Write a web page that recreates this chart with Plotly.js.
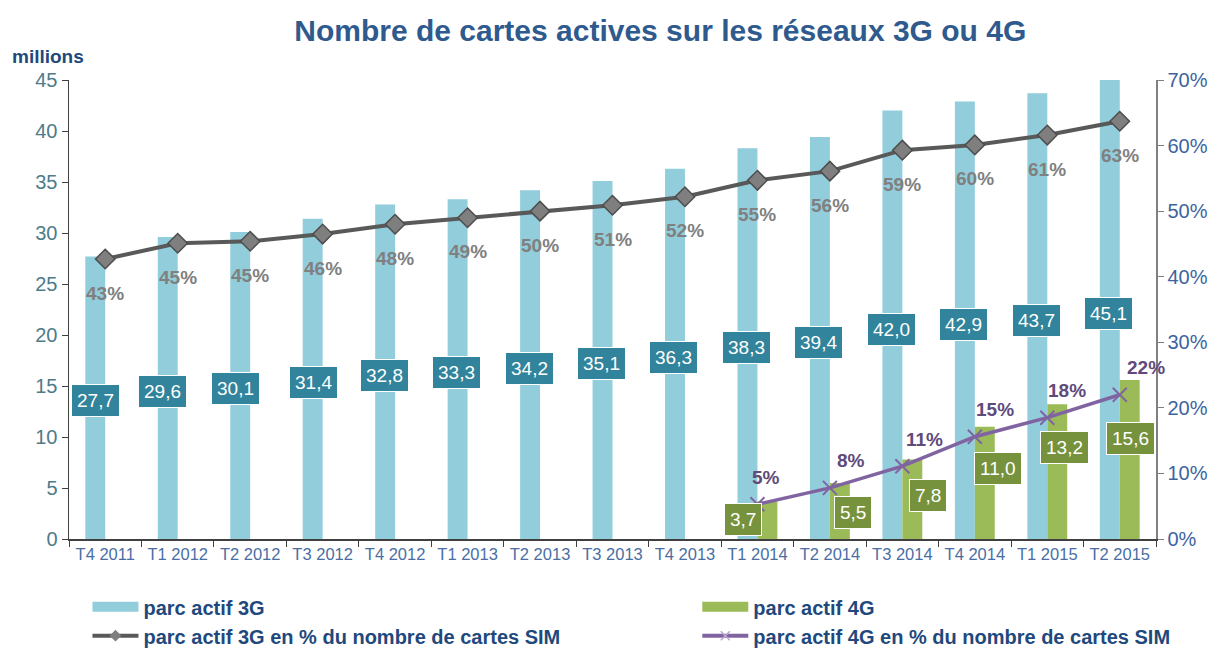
<!DOCTYPE html>
<html>
<head>
<meta charset="utf-8">
<script src="https://cdn.plot.ly/plotly-3.0.1.min.js"></script>
<style>html,body{margin:0;padding:0;background:#fff;}#chart{width:1216px;height:648px;}</style>
</head>
<body>
<div id="chart"></div>
<script>
const categories = ['T4 2011','T1 2012','T2 2012','T3 2012','T4 2012','T1 2013','T2 2013','T3 2013','T4 2013','T1 2014','T2 2014','T3 2014','T4 2014','T1 2015','T2 2015'];
const parc3G = [27.7,29.6,30.1,31.4,32.8,33.3,34.2,35.1,36.3,38.3,39.4,42.0,42.9,43.7,45.1];
const parc4G = [null,null,null,null,null,null,null,null,null,3.7,5.5,7.8,11.0,13.2,15.6];
const pct3G = [42.7,45.1,45.4,46.5,48.0,49.0,50.0,50.9,52.2,54.7,56.1,59.3,60.1,61.6,63.7];
const pct3GLabels = ['43%','45%','45%','46%','48%','49%','50%','51%','52%','55%','56%','59%','60%','61%','63%'];
const pct4G = [null,null,null,null,null,null,null,null,null,5.3,7.8,11.1,15.6,18.5,22.0];
const pct4GLabels = [null,null,null,null,null,null,null,null,null,'5%','8%','11%','15%','18%','22%'];

// label placement (layout only)
const shift3G = [-10,-15,-15,-9,-11,-11,-11,-11,-11,-11,-11,-11,-11,-11,-11];
const shift4G = [0,0,0,0,0,0,0,0,0,-14,23,26,23,17,11];
const lift4G = [0,0,0,0,0,0,0,0,0,0.51,0.48,0.55,0.63,0.68,0.63];
const shiftPct4G = [0,0,0,0,0,0,0,0,0,9,21,22,20,20,26];

const fmt = v => v.toFixed(1).replace('.', ',');
const FONT = 'Liberation Sans, Arial, sans-serif';

const traces = [
  // legend entries
  {type:'scatter', mode:'lines', name:'parc actif 3G', x:[null], y:[null], line:{color:'#92cddc', width:12}, legend:'legend', hoverinfo:'skip'},
  {type:'scatter', mode:'lines+markers', name:'parc actif 3G en % du nombre de cartes SIM', x:[null], y:[null],
   line:{color:'#595959', width:4}, marker:{symbol:'diamond', size:9, color:'#7f7f7f'}, legend:'legend', hoverinfo:'skip'},
  {type:'scatter', mode:'lines', name:'parc actif 4G', x:[null], y:[null], line:{color:'#9bbb59', width:12}, legend:'legend2', hoverinfo:'skip'},
  {type:'scatter', mode:'lines+markers', name:'parc actif 4G en % du nombre de cartes SIM', x:[null], y:[null],
   line:{color:'#8064a2', width:4}, marker:{symbol:'x-thin', size:9, color:'#b9a7d0', line:{color:'#b9a7d0', width:1.5}}, legend:'legend2', hoverinfo:'skip'},
  // data
  {type:'bar', name:'parc actif 3G', x:categories, y:parc3G, marker:{color:'#92cddc'}, showlegend:false, hoverinfo:'skip'},
  {type:'bar', name:'parc actif 4G', x:categories, y:parc4G, marker:{color:'#9bbb59'}, showlegend:false, hoverinfo:'skip'},
  {type:'scatter', mode:'lines+markers', name:'parc actif 3G en % du nombre de cartes SIM', x:categories, y:pct3G, yaxis:'y2',
   line:{color:'#595959', width:4}, marker:{symbol:'diamond', size:15, color:'#7f7f7f', line:{color:'#4d4d4d', width:1.5}}, showlegend:false},
  {type:'scatter', mode:'lines+markers', name:'parc actif 4G en % du nombre de cartes SIM', x:categories, y:pct4G, yaxis:'y2',
   line:{color:'#8064a2', width:3.5}, marker:{symbol:'x-thin', size:14, color:'#8064a2', line:{color:'#8064a2', width:2}}, showlegend:false}
];

const annotations = [];
categories.forEach((c, i) => {
  annotations.push({x:c, y:parc3G[i]*0.49, xref:'x', yref:'y', text:fmt(parc3G[i]), showarrow:false, xshift:shift3G[i],
    bgcolor:'#31849b', bordercolor:'#ffffff', borderwidth:1, borderpad:5, font:{family:FONT, size:19, color:'#ffffff'}});
  if (parc4G[i] != null) {
    annotations.push({x:c, y:parc4G[i]*lift4G[i], xref:'x', yref:'y', text:fmt(parc4G[i]), showarrow:false, xshift:shift4G[i],
      bgcolor:'#76923c', bordercolor:'#ffffff', borderwidth:1, borderpad:5, font:{family:FONT, size:19, color:'#ffffff'}});
  }
  annotations.push({x:c, y:pct3G[i], xref:'x', yref:'y2', text:'<b>'+pct3GLabels[i]+'</b>', showarrow:false, yshift:-34,
    font:{family:FONT, size:19, color:'#808080'}});
  if (pct4G[i] != null) {
    annotations.push({x:c, y:pct4G[i], xref:'x', yref:'y2', text:'<b>'+pct4GLabels[i]+'</b>', showarrow:false, yshift:27, xshift:shiftPct4G[i],
      font:{family:FONT, size:19, color:'#604a7b'}});
  }
});
annotations.push({xref:'paper', yref:'paper', x:-0.054, y:1.025, xanchor:'left', yanchor:'bottom', text:'<b>millions</b>', showarrow:false,
  font:{family:FONT, size:19, color:'#1f497d'}});

const layout = {
  width:1216, height:648,
  margin:{l:69, r:60, t:80, b:109, autoexpand:false},
  paper_bgcolor:'#ffffff', plot_bgcolor:'#ffffff',
  title:{text:'<b>Nombre de cartes actives sur les réseaux 3G ou 4G</b>', x:0.543, xanchor:'center', y:0.953, yanchor:'middle',
    font:{family:FONT, size:30, color:'#2f5a8e'}},
  barmode:'group', bargap:0.45, bargroupgap:0,
  showlegend:true,
  xaxis:{type:'category', range:[-0.5,14.5], autorange:false, showline:true, linecolor:'#404040', linewidth:1.5, ticks:'outside', tickson:'boundaries', ticklen:6, tickcolor:'#404040',
    tickangle:0, tickfont:{family:FONT, size:16.5, color:'#4a6ea3'}, showgrid:false, zeroline:false},
  yaxis:{range:[0,45], dtick:5, showline:true, linecolor:'#404040', linewidth:1.5, ticks:'outside', ticklen:6, tickcolor:'#404040',
    tickfont:{family:FONT, size:20, color:'#4e7b8a'}, showgrid:false, zeroline:false},
  yaxis2:{range:[0,70], dtick:10, overlaying:'y', side:'right', ticksuffix:'%', showline:true, linecolor:'#808080', linewidth:1.5,
    ticks:'outside', ticklen:6, tickcolor:'#808080', tickfont:{family:FONT, size:20, color:'#3c64a0'}, showgrid:false, zeroline:false},
  legend:{x:0.017, y:-0.105, xanchor:'left', yanchor:'top', orientation:'v', traceorder:'normal', itemwidth:46,
    font:{family:FONT, size:20, color:'#1f497d', weight:'bold'}, bgcolor:'rgba(0,0,0,0)', tracegroupgap:0},
  legend2:{x:0.578, y:-0.105, xanchor:'left', yanchor:'top', orientation:'v', traceorder:'normal', itemwidth:46,
    font:{family:FONT, size:20, color:'#1f497d', weight:'bold'}, bgcolor:'rgba(0,0,0,0)', tracegroupgap:0},
  annotations:annotations
};

Plotly.newPlot('chart', traces, layout, {displayModeBar:false, staticPlot:true});
</script>
</body>
</html>
